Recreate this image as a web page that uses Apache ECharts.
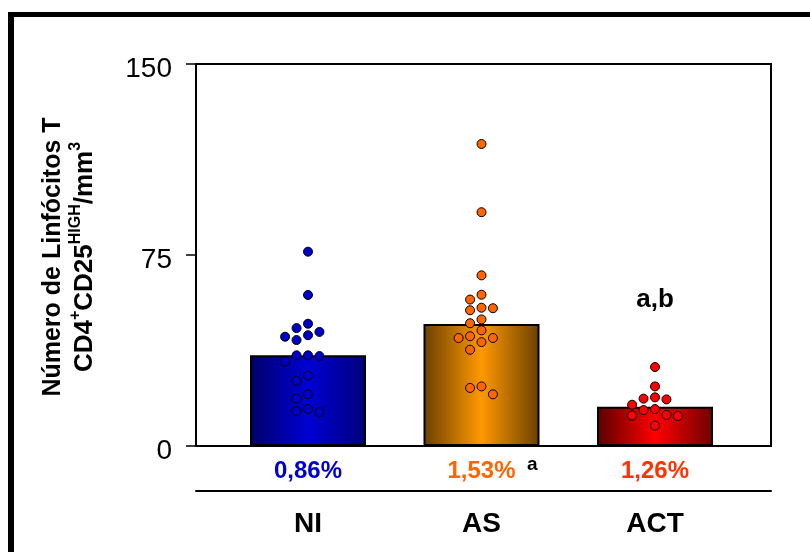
<!DOCTYPE html>
<html><head><meta charset="utf-8">
<script src="https://cdn.jsdelivr.net/npm/echarts@6/dist/echarts.min.js"></script>
<style>
html,body{margin:0;padding:0;background:#fff;overflow:hidden}
#frame{position:absolute;left:8px;top:12px;width:900px;height:700px;border-left:6px solid #000;border-top:5px solid #000;box-sizing:border-box}
#chart{position:absolute;left:0;top:0;width:810px;height:552px}
</style></head><body>
<div id="frame"></div><div id="chart"></div>
<script>
const categories = ["NI", "AS", "ACT"];
const barMeans = [35.6, 47.9, 15.4];
const percentages = ["0,86%", "1,53%", "1,26%"];
const percentNotes = ["", "a", ""];
const barNotes = ["", "", "a,b"];
const valuesNI = [76.3, 59.3, 48.0, 46.3, 44.8, 43.5, 42.9, 41.6, 35.6, 35.3, 35.6, 33.2, 27.6, 25.6, 20.3, 18.6, 14.5, 13.3, 13.7];
const valuesAS = [118.6, 91.8, 67.0, 59.4, 57.5, 54.3, 53.3, 54.1, 49.7, 48.2, 45.4, 43.1, 42.4, 42.4, 40.8, 37.8, 23.4, 22.8, 20.3];
const valuesACT = [31.0, 23.4, 19.1, 18.3, 18.6, 16.2, 14.5, 14.1, 12.0, 11.8, 12.2, 8.0];
const yMin = 0, yMax = 150, yStep = 75;

const barColors = [
  ['#000068', '#0000d4', '#00007a'],
  ['#6a4000', '#ff9900', '#6a4000'],
  ['#5a0000', '#ff0000', '#700000']
];
const dotColors = ['#0000c8', '#ff6600', '#ff0000'];
const pctColors = ['#0000cc', '#ff6600', '#ff3300'];

function swarm(values, gi) {
  const sorted = values.slice().sort((a, b) => b - a);
  const placed = [];
  const slots = [0, -1, 1, -2, 2, -3, 3, -4, 4];
  const gap = 3.5, step = 0.066;
  return sorted.map(v => {
    const s = slots.find(s => !placed.some(p => p.s === s && Math.abs(p.v - v) < gap));
    placed.push({s, v});
    return [gi + s * step, v];
  });
}
const groups = [valuesNI, valuesAS, valuesACT];

const font = 'Liberation Sans, Arial, sans-serif';
const chart = echarts.init(document.getElementById('chart'));
const rich = {
  sp: {width: 22, fontSize: 18},
  sa: {width: 22, align: 'right', fontSize: 19, fontWeight: 'bold', color: '#000', fontFamily: font, verticalAlign: 'top', lineHeight: 16},
  c: {fontSize: 28, fontWeight: 'bold', color: '#000', fontFamily: font, lineHeight: 74}
};
pctColors.forEach((c, i) => {
  rich['p' + i] = {fontSize: 24, fontWeight: 'bold', color: c, fontFamily: font, lineHeight: 32};
});

chart.setOption({
  animation: false,
  backgroundColor: 'transparent',
  grid: [
    {left: 196, right: 39, top: 64, bottom: 106, show: true, borderColor: '#000', borderWidth: 2, backgroundColor: 'transparent'},
    {left: 221.25, right: 68.25, top: 64, bottom: 106}
  ],
  xAxis: [
    {gridIndex: 0, type: 'value', min: 0, max: 1, axisLine: {show: false}, axisTick: {show: false}, axisLabel: {show: false}, splitLine: {show: false}},
    {gridIndex: 0, type: 'value', min: 0, max: 1, position: 'bottom', offset: 45, axisLine: {show: true, onZero: false, lineStyle: {color: '#000', width: 2}}, axisTick: {show: false}, axisLabel: {show: false}, splitLine: {show: false}},
    {gridIndex: 1, type: 'category', data: categories, axisLine: {show: false}, axisTick: {show: false},
      axisLabel: {margin: 9, rich: rich,
        formatter: (v, i) => `{sp| }{p${i}|${percentages[i]}}{sa|${percentNotes[i] || ' '}}\n{c|${v}}`}},
    {gridIndex: 1, type: 'value', min: -0.5, max: 2.5, show: false}
  ],
  yAxis: [
    {gridIndex: 0, type: 'value', min: yMin, max: yMax, interval: yStep,
      axisLine: {show: true, lineStyle: {color: '#000', width: 2}},
      axisTick: {show: true, length: 10, lineStyle: {color: '#000', width: 1.5}},
      axisLabel: {margin: 24, formatter: v => `{g| }{v|${v}}`,
        rich: {
          g: {fontSize: 10, lineHeight: 38, width: 1},
          v: {fontSize: 28, color: '#000', fontFamily: font, lineHeight: 28, verticalAlign: 'bottom'}
        }},
      splitLine: {show: false}},
    {gridIndex: 1, type: 'value', min: yMin, max: yMax, show: false}
  ],
  graphic: [{
    type: 'text', x: 71, y: 257, rotation: Math.PI / 2,
    style: {
      text: '{t|Número de Linfócitos T}\n{u|CD4}{s|+}{u|CD25}{s|HIGH}{u|/mm}{s|3}',
      align: 'center', verticalAlign: 'middle', fill: '#000',
      rich: {
        t: {fontSize: 25, fontWeight: 'bold', fontFamily: font, fill: '#000', lineHeight: 28},
        u: {fontSize: 26, fontWeight: 'bold', fontFamily: font, fill: '#000', lineHeight: 35},
        s: {fontSize: 16, fontWeight: 'bold', fontFamily: font, fill: '#000', lineHeight: 15, verticalAlign: 'top'}
      }
    }
  }],
  series: [
    {type: 'bar', xAxisIndex: 2, yAxisIndex: 1, barWidth: 116, z: 2,
      data: barMeans.map((v, i) => ({value: v, itemStyle: {
        color: new echarts.graphic.LinearGradient(0, 0, 1, 0, [
          {offset: 0, color: barColors[i][0]}, {offset: 0.5, color: barColors[i][1]}, {offset: 1, color: barColors[i][2]}]),
        borderColor: '#000', borderWidth: 2}})),
      label: {show: true, position: 'top', distance: 94, formatter: p => barNotes[p.dataIndex],
        fontSize: 26, fontWeight: 'bold', color: '#000', fontFamily: font, lineHeight: 26}
    },
    ...groups.map((g, gi) => ({
      type: 'scatter', xAxisIndex: 3, yAxisIndex: 1, z: 3, symbolSize: 9,
      itemStyle: {color: dotColors[gi], borderColor: '#000', borderWidth: 1, opacity: 1},
      data: swarm(g, gi)
    }))
  ]
});
</script>
</body></html>
